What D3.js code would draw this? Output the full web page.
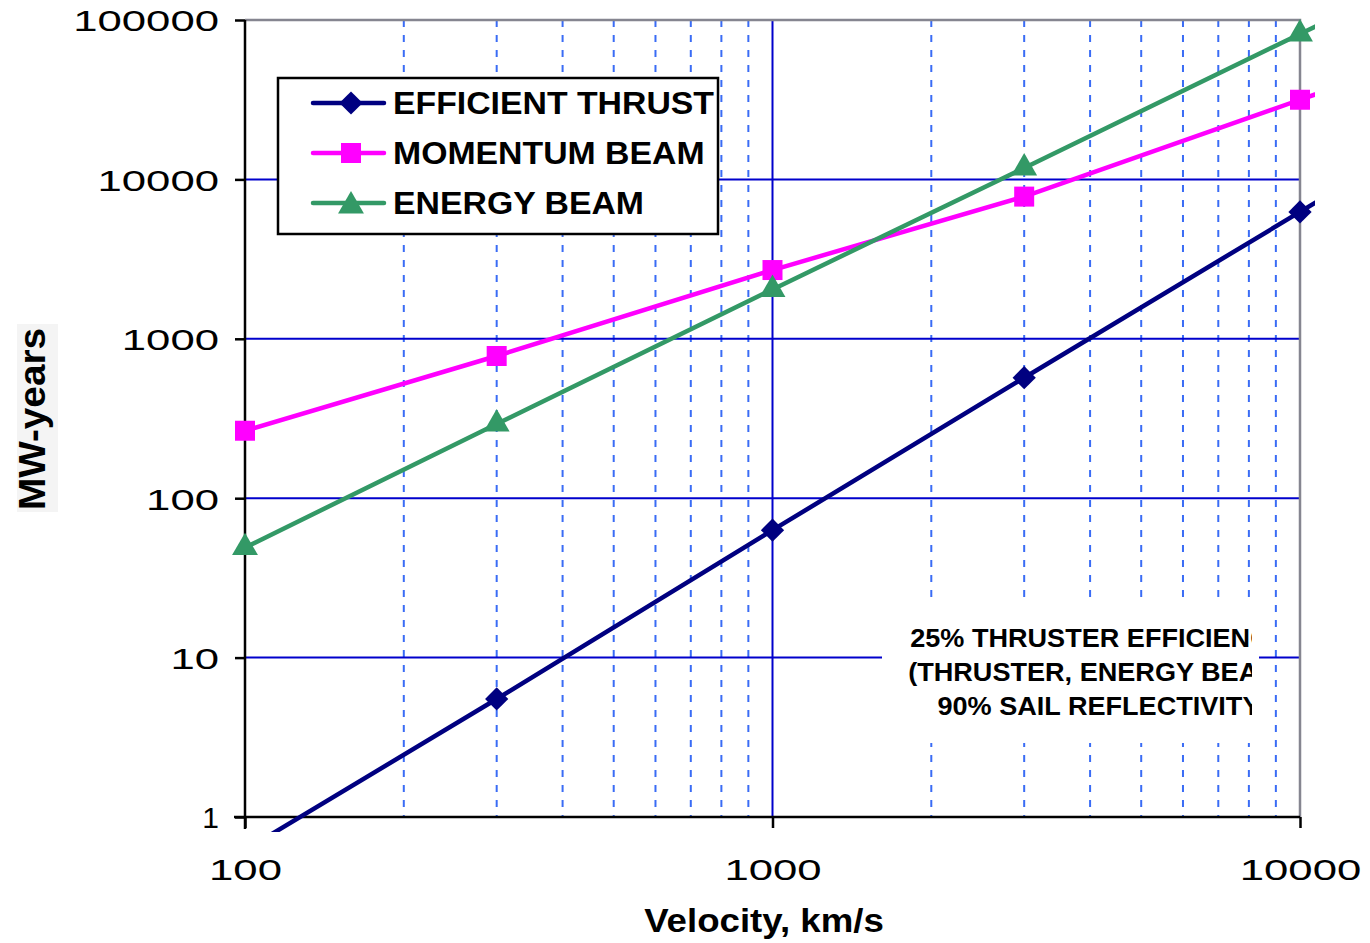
<!DOCTYPE html>
<html>
<head>
<meta charset="utf-8">
<script src="https://cdn.jsdelivr.net/npm/d3@7"></script>
<style>
  html, body { margin: 0; padding: 0; background: #fff; }
  svg { display: block; }
</style>
</head>
<body>
<svg id="chart" width="1370" height="943"></svg>
<script>
// Velocity points (km/s) and power requirement (MW-years) for each propulsion mode
const velocity = [100, 300, 1000, 3000, 10000, 30000];
const efficientThrust = [0.62, 5.5, 63, 570, 6250, 56000];
const momentumBeam = [265, 780, 2700, 7800, 31600, 113000];
const energyBeam = [49, 292, 2040, 11800, 81700, 470000];

const seriesNames = ["EFFICIENT THRUST", "MOMENTUM BEAM", "ENERGY BEAM"];
const seriesColors = ["#000080", "#ff00ff", "#339966"];

const yTickValues = [1, 10, 100, 1000, 10000, 100000];
const yTickLabels = ["1", "10", "100", "1000", "10000", "100000"];
const xTickValues = [100, 1000, 10000];
const xTickLabels = ["100", "1000", "10000"];

const noteLines = ["25% THRUSTER EFFICIENCY", "(THRUSTER, ENERGY BEAM)", "90% SAIL REFLECTIVITY"];

(function draw() {
const svg = d3.select("#chart");
const pLeft = 245, pRight = 1300, pTop = 20, pBottom = 817;
const FONT = "'Liberation Sans', Arial, sans-serif";

const x = d3.scaleLog().domain([100, 10000]).range([pLeft, pRight]);
const y = d3.scaleLog().domain([1, 100000]).range([pBottom, pTop]);

// widen text horizontally by factor k
function stretch(sel, k) {
  sel.each(function() {
    const w = this.getComputedTextLength();
    d3.select(this).attr("textLength", w * k).attr("lengthAdjust", "spacingAndGlyphs");
  });
}

// Marker shapes: rotated square for the diamond, square, triangle
const markers = [
  { type: d3.symbolSquare, size: 270, rot: 45 },
  { type: d3.symbolSquare, size: 400, rot: 0 },
  { type: d3.symbolTriangle, size: 290, rot: 0 }
];

// Minor vertical gridlines (dashed)
const minorX = [];
for (let dec of [100, 1000]) for (let k = 2; k <= 9; k++) minorX.push(dec * k);
svg.append("g").selectAll("line").data(minorX).join("line")
  .attr("x1", d => x(d)).attr("x2", d => x(d))
  .attr("y1", pTop).attr("y2", pBottom)
  .attr("stroke", "#3a6cf5").attr("stroke-width", 2)
  .attr("stroke-dasharray", "7,8");

// Major gridlines
svg.append("g").selectAll("line").data(yTickValues.slice(1, -1)).join("line")
  .attr("x1", pLeft).attr("x2", pRight)
  .attr("y1", d => y(d)).attr("y2", d => y(d))
  .attr("stroke", "#0000cc").attr("stroke-width", 2);
svg.append("line")
  .attr("x1", x(1000)).attr("x2", x(1000)).attr("y1", pTop).attr("y2", pBottom)
  .attr("stroke", "#0000cc").attr("stroke-width", 2);

// Plot frame: top and right in gray
svg.append("path")
  .attr("d", `M${pLeft},${pTop}H${pRight}V${pBottom}`)
  .attr("fill", "none").attr("stroke", "#858590").attr("stroke-width", 2.5);

// Annotation box (covers gridlines)
const noteCx = 1099;
svg.append("rect").attr("x", 882).attr("y", 603).attr("width", 377).attr("height", 140).attr("fill", "#fff");
const defs = svg.append("defs");
defs.append("clipPath").attr("id", "noteClip")
  .append("rect").attr("x", 882).attr("y", 603).attr("width", 370).attr("height", 140);
svg.append("g").attr("clip-path", "url(#noteClip)")
  .selectAll("text").data(noteLines).join("text")
  .attr("x", noteCx).attr("y", (d, i) => 647 + i * 34)
  .attr("text-anchor", "middle")
  .attr("font-family", FONT).attr("font-weight", "bold")
  .attr("font-size", 25).attr("fill", "#000")
  .text(d => d)
  .call(stretch, 1.083);

// Axes
const yAxis = d3.axisLeft(y).tickValues(yTickValues).tickFormat((d, i) => yTickLabels[i]).tickSize(10).tickPadding(16);
const gy = svg.append("g").attr("transform", `translate(${pLeft},0)`).call(yAxis);
const xAxis = d3.axisBottom(x).tickValues(xTickValues).tickFormat((d, i) => xTickLabels[i]).tickSize(11).tickPadding(12);
const gx = svg.append("g").attr("transform", `translate(0,${pBottom})`).call(xAxis);
[gx, gy].forEach(g => {
  g.select(".domain").remove();
  g.selectAll(".tick line").attr("stroke", "#000").attr("stroke-width", 2.5);
  g.selectAll(".tick text")
    .attr("font-family", FONT)
    .attr("font-size", 30).attr("fill", "#000");
});
gy.selectAll(".tick text").attr("dy", "0.36em")
  .each(function(d, i) {
    const n = yTickLabels[i].length;
    if (n > 1) d3.select(this).attr("textLength", n * 24.3).attr("lengthAdjust", "spacingAndGlyphs");
  });
gx.selectAll(".tick text").attr("y", 63).attr("dy", 0)
  .each(function(d, i) {
    const n = xTickLabels[i].length;
    d3.select(this).attr("textLength", n * 24.3).attr("lengthAdjust", "spacingAndGlyphs");
  });
svg.append("line").attr("x1", pLeft).attr("x2", pLeft).attr("y1", pTop).attr("y2", 829)
  .attr("stroke", "#000").attr("stroke-width", 2.5);
svg.append("line").attr("x1", 234).attr("x2", pRight).attr("y1", pBottom).attr("y2", pBottom)
  .attr("stroke", "#000").attr("stroke-width", 2.5);

// Series
const seriesData = [efficientThrust, momentumBeam, energyBeam];
defs.append("clipPath").attr("id", "plotClip")
  .append("rect").attr("x", 225).attr("y", 0).attr("width", 1315 - 225).attr("height", 832);
const plot = svg.append("g").attr("clip-path", "url(#plotClip)");
const line = d3.line().x(d => x(d[0])).y(d => y(d[1]));
seriesData.forEach((vals, s) => {
  const pts = velocity.map((v, i) => [v, vals[i]]);
  const m = markers[s];
  plot.append("path").datum(pts).attr("d", line)
    .attr("fill", "none").attr("stroke", seriesColors[s]).attr("stroke-width", 4.5);
  plot.append("g").selectAll("path").data(pts.filter(p => p[0] <= 10000 && p[1] >= 1)).join("path")
    .attr("transform", d => `translate(${x(d[0])},${y(d[1])}) rotate(${m.rot})`)
    .attr("d", d3.symbol().type(m.type).size(m.size))
    .attr("fill", seriesColors[s]);
});

// Legend
const lg = svg.append("g");
lg.append("rect").attr("x", 278).attr("y", 78).attr("width", 440).attr("height", 156)
  .attr("fill", "#fff").attr("stroke", "#000").attr("stroke-width", 2.5);
defs.append("clipPath").attr("id", "legClip")
  .append("rect").attr("x", 279).attr("y", 79).attr("width", 438).attr("height", 154);
const rows = lg.append("g").attr("clip-path", "url(#legClip)")
  .selectAll("g").data(seriesNames).join("g")
  .attr("transform", (d, i) => `translate(0,${103 + i * 50})`);
rows.append("line").attr("x1", 313).attr("x2", 384).attr("y1", 0).attr("y2", 0)
  .attr("stroke", (d, i) => seriesColors[i]).attr("stroke-width", 4.5).attr("stroke-linecap", "round");
rows.append("path")
  .attr("transform", (d, i) => `translate(351,${i === 2 ? 3 : 0}) rotate(${markers[i].rot})`)
  .attr("d", (d, i) => d3.symbol().type(markers[i].type).size(markers[i].size)())
  .attr("fill", (d, i) => seriesColors[i]);
rows.append("text").attr("x", 393).attr("y", 11)
  .attr("font-family", FONT).attr("font-weight", "bold")
  .attr("font-size", 31).attr("fill", "#000")
  .text(d => d)
  .call(stretch, 1.09);

// Axis titles
svg.append("text").attr("x", 764).attr("y", 932).attr("text-anchor", "middle")
  .attr("font-family", FONT).attr("font-weight", "bold")
  .attr("font-size", 33).attr("fill", "#000").text("Velocity, km/s")
  .call(stretch, 1.11);
svg.append("rect").attr("x", 17).attr("y", 324).attr("width", 41).attr("height", 188).attr("fill", "#f4f4f4");
svg.append("text").attr("transform", "translate(45,419) rotate(-90)").attr("text-anchor", "middle")
  .attr("font-family", FONT).attr("font-weight", "bold")
  .attr("font-size", 36).attr("fill", "#000").text("MW-years")
  .attr("textLength", 182).attr("lengthAdjust", "spacingAndGlyphs");
})();
</script>
</body>
</html>
